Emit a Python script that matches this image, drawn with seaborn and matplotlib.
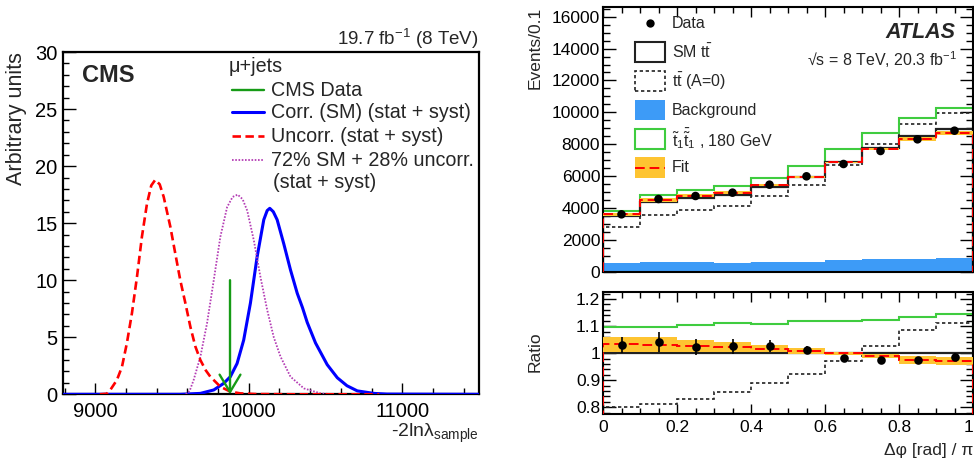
import numpy as np
import matplotlib.pyplot as plt
import seaborn as sns
from matplotlib.lines import Line2D
from matplotlib.patches import Rectangle
from matplotlib.ticker import MultipleLocator, FuncFormatter

# ---- CMS panel: -2ln(lambda) distributions ----
uncorr_x = [9030, 9076, 9098, 9141, 9174, 9206, 9239, 9272, 9304, 9337, 9365, 9391,
            9420, 9446, 9489, 9522, 9554, 9587, 9620, 9652, 9685, 9720, 9750, 9815,
            9880, 9946, 10050, 10300, 10850]
uncorr_y = [0, 0.05, 0.38, 1.25, 2.4, 4.47, 7.1, 10.3, 13.8, 16.7, 18.3, 18.8,
            18.4, 17.3, 14.7, 12.3, 10.0, 8.0, 5.9, 4.2, 3.0, 2.1, 1.54, 0.67,
            0.23, 0.08, 0.02, 0, 0]
mix_x = [9590, 9615, 9641, 9685, 9728, 9772, 9815, 9859, 9895, 9928, 9960, 9990,
         10033, 10076, 10120, 10163, 10207, 10272, 10359, 10468, 10555]
mix_y = [0, 0.3, 1.25, 3.3, 6.2, 10.0, 13.8, 16.4, 17.3, 17.5, 17.1, 16.1,
         13.5, 10.3, 7.4, 5.0, 3.3, 1.54, 0.52, 0.08, 0]
corr_x = [8790, 9554, 9685, 9772, 9837, 9880, 9924, 9967, 10011, 10054, 10098,
          10120, 10137, 10160, 10185, 10228, 10272, 10316, 10350, 10381, 10435,
          10511, 10577, 10640, 10707, 10815, 10900, 11500]
corr_y = [0, 0, 0.08, 0.38, 0.96, 1.54, 2.7, 4.75, 8.0, 12.0, 15.3,
          16.1, 16.3, 16.0, 15.3, 13.2, 10.9, 8.85, 7.6, 6.3, 4.5,
          2.6, 1.45, 0.75, 0.3, 0.08, 0.02, 0]
cms_data_value = 9878
cms_arrow_top = 10

# ---- ATLAS panel: delta phi / pi, 10 bins ----
edges = [0, 0.1, 0.2, 0.3, 0.4, 0.5, 0.6, 0.7, 0.8, 0.9, 1.0]
centers = [0.05, 0.15, 0.25, 0.35, 0.45, 0.55, 0.65, 0.75, 0.85, 0.95]
data = [3600, 4560, 4750, 4960, 5460, 5985, 6758, 7574, 8306, 8848]
sm_tt = [3495, 4385, 4650, 4840, 5320, 5915, 6870, 7775, 8535, 8960]
tt_a0 = [2795, 3560, 3855, 4150, 4725, 5450, 6670, 7990, 9260, 9960]
stop = [3828, 4812, 5126, 5377, 5900, 6611, 7678, 8724, 9665, 10251]
background = [530, 640, 600, 550, 580, 600, 750, 810, 800, 880]
fit_ratio = [1.032, 1.030, 1.026, 1.022, 1.017, 1.009, 0.999, 0.989, 0.974, 0.970]
fit_lo = [1.004, 1.004, 1.005, 1.006, 1.006, 0.998, 0.992, 0.981, 0.960, 0.955]
fit_hi = [1.060, 1.058, 1.048, 1.040, 1.030, 1.020, 1.006, 0.998, 0.988, 0.986]
ratio_err = [0.031, 0.037, 0.030, 0.028, 0.023, 0.015, 0.008, 0.006, 0.008, 0.013]

sns.set_theme(style='ticks')
plt.rcParams['font.family'] = ['Liberation Sans', 'DejaVu Sans']
plt.rcParams['mathtext.fontset'] = 'custom'
plt.rcParams['mathtext.rm'] = 'Liberation Sans'
plt.rcParams['mathtext.it'] = 'Liberation Sans:italic'
plt.rcParams['mathtext.bf'] = 'Liberation Sans:bold'

W, H = 974, 463
fig = plt.figure(figsize=(W / 100, H / 100), dpi=100)
fig.patch.set_facecolor('white')


def box(x0, y0, x1, y1):
    return [x0 / W, 1 - y1 / H, (x1 - x0) / W, (y1 - y0) / H]


def fx(px):
    return px / W


def fy(py):
    return 1 - py / H


RED = '#ff0000'
BLUE = '#0000ff'
MAG = '#b43cb4'
CGREEN = '#169b16'
AGREEN = '#3fcc3f'
BKG = '#3d9bf7'
YEL = '#fec431'

# ================= CMS =================
ax = fig.add_axes(box(63, 52, 479, 394.3))
sns.lineplot(x=corr_x, y=corr_y, ax=ax, color=BLUE, lw=2.2, zorder=3)
sns.lineplot(x=mix_x, y=mix_y, ax=ax, color=MAG, lw=1.3, linestyle=(0, (0.9, 0.9)), zorder=3)
sns.lineplot(x=uncorr_x, y=uncorr_y, ax=ax, color=RED, lw=1.9, linestyle=(0, (3.2, 1.7)), zorder=4)
ax.annotate('', xy=(cms_data_value, 0), xytext=(cms_data_value, cms_arrow_top),
            arrowprops=dict(arrowstyle='->, head_length=1.25, head_width=0.75',
                            color=CGREEN, lw=1.7, shrinkA=0, shrinkB=0,
                            mutation_scale=10), zorder=5)
ax.set_xlim(8790, 11500)
ax.set_ylim(0, 30)
ax.xaxis.set_major_locator(MultipleLocator(1000))
ax.xaxis.set_minor_locator(MultipleLocator(200))
ax.yaxis.set_major_locator(MultipleLocator(5))
ax.yaxis.set_minor_locator(MultipleLocator(1))
ax.ticklabel_format(useOffset=False, style='plain')
ax.tick_params(which='both', direction='in', top=False, right=False, colors='black',
               labelsize=14.5)
ax.tick_params(axis='y', which='major', length=9.5, width=1, pad=4)
ax.tick_params(axis='y', which='minor', length=4.5, width=1)
ax.tick_params(axis='x', which='major', length=8, width=1, pad=5.5)
ax.tick_params(axis='x', which='minor', length=4, width=1)
for s in ax.spines.values():
    s.set_linewidth(1.6)
    s.set_color('black')
ax.set_xlabel('')
ax.set_ylabel('')

fig.text(fx(17), fy(52), 'Arbitrary units', rotation=90, ha='center', va='top', fontsize=15.5)
fig.text(fx(479), fy(437), '-2ln\u03bb$_{\\mathregular{sample}}$', ha='right', va='baseline',
         fontsize=14)
fig.text(fx(479), fy(45), '19.7 fb$^{\\mathregular{-1}}$ (8 TeV)', ha='right', va='baseline',
         fontsize=13.5)
fig.text(fx(82), fy(76), 'CMS', ha='left', va='center', fontsize=17, fontweight='bold')

lgfs = 14.2
fig.text(fx(229), fy(66), '\u03bc+jets', ha='left', va='center', fontsize=lgfs)
leg_rows = [
    (90, 'CMS Data', dict(color=CGREEN, lw=1.7)),
    (112, 'Corr. (SM) (stat + syst)', dict(color=BLUE, lw=2.2)),
    (136, 'Uncorr. (stat + syst)', dict(color=RED, lw=1.9, linestyle=(0, (3.2, 1.7)))),
    (160, '72% SM + 28% uncorr.', dict(color=MAG, lw=1.3, linestyle=(0, (0.9, 0.9)))),
]
for py, label, style in leg_rows:
    fig.add_artist(Line2D([fx(232), fx(264)], [fy(py), fy(py)], transform=fig.transFigure, **style))
    fig.text(fx(271), fy(py), label, ha='left', va='center', fontsize=lgfs)
fig.text(fx(273), fy(182), '(stat + syst)', ha='left', va='center', fontsize=lgfs)

# ================= ATLAS =================
axt = fig.add_axes(box(603, 7.3, 973, 271.7))
axr = fig.add_axes(box(603, 292.3, 973, 414), sharex=axt)

sm = np.array(sm_tt, dtype=float)
axt.stairs(background, edges, fill=True, color=BKG, lw=0, zorder=1)
axt.stairs(tt_a0, edges, color='#222222', lw=1.2, linestyle=(0, (2, 1.6)), zorder=2)
axt.stairs(stop, edges, color=AGREEN, lw=1.5, zorder=2)
axt.stairs(sm_tt, edges, color='#222222', lw=1.6, zorder=2)
axt.stairs(sm * np.array(fit_hi), edges, baseline=sm * np.array(fit_lo), fill=True,
           color=YEL, lw=0, zorder=3)
axt.stairs(sm * np.array(fit_ratio), edges, color=RED, lw=1.4, linestyle=(0, (5, 2.5)), zorder=4)
sns.scatterplot(x=centers, y=data, ax=axt, color='black', s=38, edgecolor='none', zorder=5)
axt.set_xlim(0, 1)
axt.set_ylim(0, 16590)
axt.yaxis.set_major_locator(MultipleLocator(2000))
axt.yaxis.set_minor_locator(MultipleLocator(500))
axt.xaxis.set_major_locator(MultipleLocator(0.2))
axt.xaxis.set_minor_locator(MultipleLocator(0.05))
axt.tick_params(which='both', direction='in', top=True, right=True, colors='black',
                labelsize=12.5, labelbottom=False)
axt.tick_params(axis='y', which='major', length=9.5, width=1, pad=2)
axt.tick_params(axis='y', which='minor', length=5, width=1)
axt.tick_params(axis='x', which='major', length=7, width=1)
axt.tick_params(axis='x', which='minor', length=4, width=1)
axt.set_xlabel('')
axt.set_ylabel('')

# ratio panel
axr.axhline(1.0, color='#222222', lw=1.6, zorder=2)
axr.stairs(np.array(stop) / sm, edges, color=AGREEN, lw=1.5, zorder=2)
axr.stairs(np.array(tt_a0) / sm, edges, color='#222222', lw=1.2, linestyle=(0, (2, 1.6)), zorder=2)
axr.stairs(fit_hi, edges, baseline=fit_lo, fill=True, color=YEL, lw=0, zorder=3)
axr.stairs(fit_ratio, edges, color=RED, lw=1.4, linestyle=(0, (5, 2.5)), zorder=4)
axr.errorbar(centers, np.array(data) / sm, yerr=ratio_err, fmt='o', color='black',
             ms=6.2, mec='none', elinewidth=1.2, capsize=0, zorder=5)
axr.set_ylim(0.775, 1.225)
axr.yaxis.set_major_locator(MultipleLocator(0.1))
axr.yaxis.set_minor_locator(MultipleLocator(0.02))
fmt = FuncFormatter(lambda v, p: f'{v:g}')
axr.yaxis.set_major_formatter(fmt)
axr.xaxis.set_major_formatter(fmt)
axr.tick_params(which='both', direction='in', top=True, right=True, colors='black',
                labelsize=12.5)
axr.tick_params(axis='y', which='major', length=9.5, width=1, pad=2)
axr.tick_params(axis='y', which='minor', length=5, width=1)
axr.tick_params(axis='x', which='major', length=7, width=1, pad=4)
axr.tick_params(axis='x', which='minor', length=4, width=1)
axr.set_xlim(0, 1)
fig.canvas.draw()
# keep the last x label ("1") inside the figure edge
for lab in axr.get_xticklabels():
    if lab.get_text() == '1':
        lab.set_horizontalalignment('right')

for a in (axt, axr):
    for s in a.spines.values():
        s.set_linewidth(1.5)
        s.set_color('black')

fig.text(fx(535), fy(7), 'Events/0.1', rotation=90, ha='center', va='top', fontsize=12.5)
fig.text(fx(535), fy(352), 'Ratio', rotation=90, ha='center', va='center', fontsize=12.5)
fig.text(fx(973), fy(455), '\u0394\u03c6 [rad] / \u03c0', ha='right', va='baseline', fontsize=12.5)
fig.text(fx(955), fy(33), 'ATLAS', ha='right', va='center', fontsize=15.5,
         fontweight='bold', fontstyle='italic')
fig.text(fx(957), fy(60), '\u221as = 8 TeV, 20.3 fb$^{\\mathregular{-1}}$', ha='right',
         va='center', fontsize=11.5)

# ATLAS legend
lfs = 11.5
fig.add_artist(Line2D([fx(650)], [fy(23)], marker='o', ms=6, color='black', mec='none',
                      transform=fig.transFigure))
fig.text(fx(672), fy(23), 'Data', ha='left', va='center', fontsize=lfs)
fig.add_artist(Rectangle((fx(635), fy(62)), fx(30), 20 / H, fill=False, ec='#222222', lw=1.5,
                         transform=fig.transFigure))
fig.text(fx(672), fy(52), 'SM $\\mathregular{t\\bar{t}}$', ha='left', va='center', fontsize=lfs)
fig.add_artist(Rectangle((fx(635), fy(91)), fx(30), 20 / H, fill=False, ec='#222222', lw=1.2,
                         linestyle=(0, (2, 1.6)), transform=fig.transFigure))
fig.text(fx(672), fy(81), '$\\mathregular{t\\bar{t}}$ (A=0)', ha='left', va='center', fontsize=lfs)
fig.add_artist(Rectangle((fx(635), fy(120)), fx(30), 20 / H, fill=True, fc=BKG, ec='none',
                         transform=fig.transFigure))
fig.text(fx(672), fy(110), 'Background', ha='left', va='center', fontsize=lfs)
fig.add_artist(Rectangle((fx(635), fy(149)), fx(30), 20 / H, fill=False, ec=AGREEN, lw=1.5,
                         transform=fig.transFigure))
fig.text(fx(672), fy(139), '$\\mathregular{\\tilde{t}_1\\bar{\\tilde{t}}_1}$ , 180 GeV',
         ha='left', va='center', fontsize=lfs)
fig.add_artist(Rectangle((fx(635), fy(178)), fx(30), 21 / H, fill=True, fc=YEL, ec='none',
                         transform=fig.transFigure))
fig.add_artist(Line2D([fx(635), fx(665)], [fy(167.5), fy(167.5)], color=RED, lw=1.4,
                      linestyle=(0, (5, 2.5)), transform=fig.transFigure))
fig.text(fx(672), fy(167), 'Fit', ha='left', va='center', fontsize=lfs)

fig.savefig('out.png', dpi=100, facecolor='white')
